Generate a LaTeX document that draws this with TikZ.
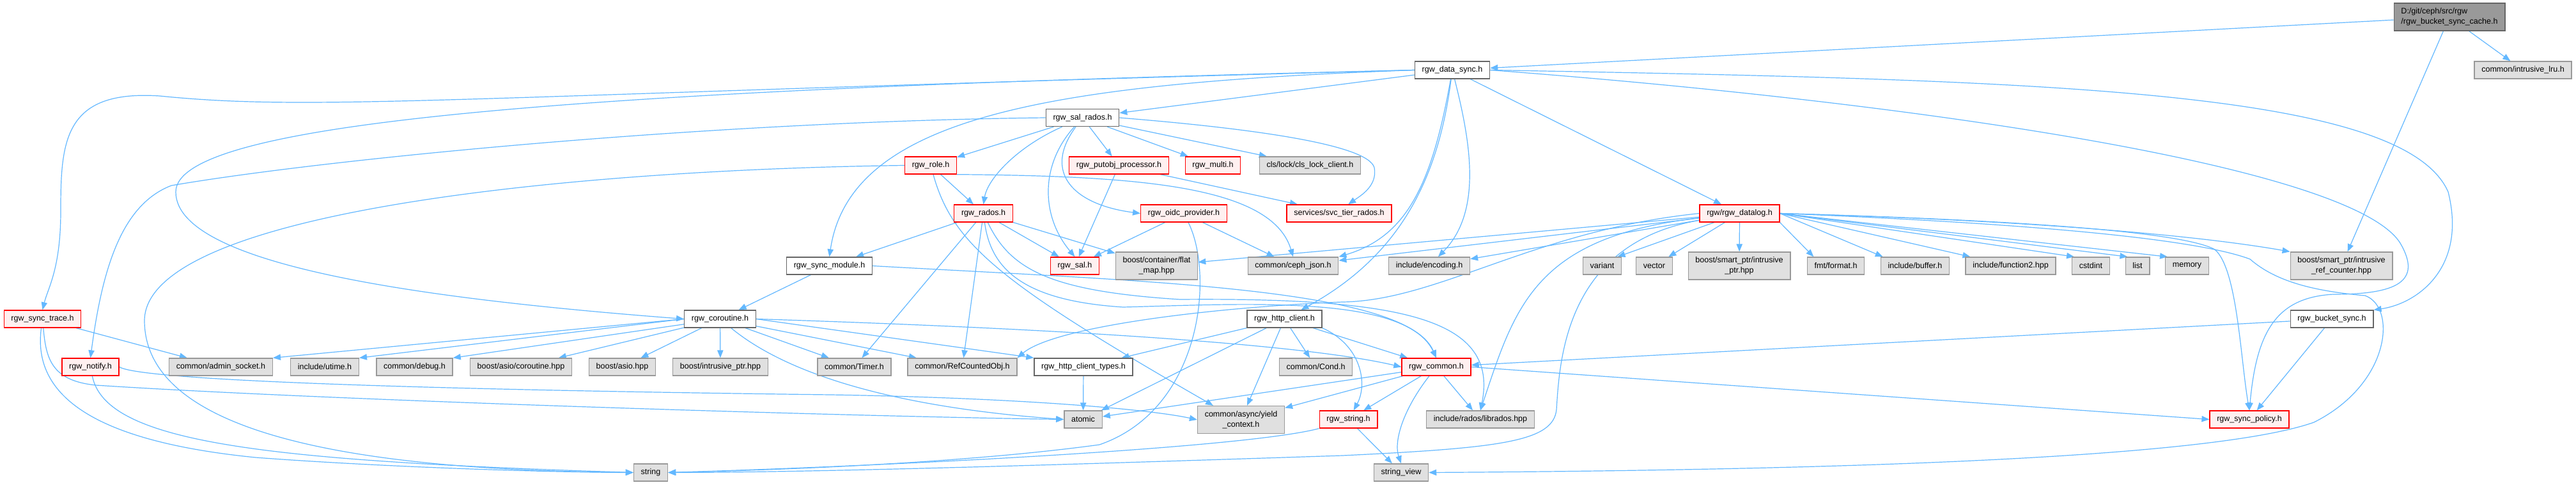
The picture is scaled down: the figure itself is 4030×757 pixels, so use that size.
\documentclass[tikz,border=0pt]{standalone}
\usepackage{fontspec}
\setmainfont{Liberation Sans}
\usetikzlibrary{arrows.meta, backgrounds}

\definecolor{edgeblue}{HTML}{63B8FF}
\definecolor{sysfill}{HTML}{E0E0E0}
\definecolor{sysline}{HTML}{999999}
\definecolor{redfill}{HTML}{FFF0F0}
\definecolor{plainline}{HTML}{666666}

\tikzset{
  filebox/.style={draw=plainline, fill=white, line width=1pt, font=\fontsize{9.4}{12}\selectfont,
    inner xsep=8.4pt, inner ysep=1pt, minimum height=20.25pt},
  sysbox/.style={filebox, draw=sysline, fill=sysfill},
  redbox/.style={filebox, draw=red, fill=redfill},
  rootbox/.style={filebox, fill=sysline, align=left, minimum height=32.25pt},
  twoline/.style={align=center, minimum height=32.25pt},
  incl/.style={draw=edgeblue, line width=0.9pt, -{Triangle[length=9pt,width=7pt]}},
}

\begin{document}
\begin{tikzpicture}[x=0.75pt, y=-0.75pt]

    \useasboundingbox (0,0) rectangle (4030,757);

    % top of the graph
    \node[rootbox] (root) at (3832,26.5) {D:/git/ceph/src/rgw\\/rgw\_bucket\_sync\_cache.h};
    \node[sysbox] (lru) at (3947,109.5) {common/intrusive\_lru.h};
    \node[filebox] (datasync) at (2272,109.5) {rgw\_data\_sync.h};
    \node[filebox] (salrados) at (1693.5,184) {rgw\_sal\_rados.h};

    % rgw_sal_rados.h includes
    \node[redbox] (role) at (1456,258.5) {rgw\_role.h};
    \node[redbox] (putobj) at (1750.5,258.5) {rgw\_putobj\_processor.h};
    \node[redbox] (multi) at (1897.5,258.5) {rgw\_multi.h};
    \node[sysbox] (clslock) at (2049.5,258.5) {cls/lock/cls\_lock\_client.h};
    \node[redbox] (rados) at (1538.5,333.5) {rgw\_rados.h};
    \node[redbox] (oidc) at (1852,333.5) {rgw\_oidc\_provider.h};
    \node[redbox] (svctier) at (2095,333.5) {services/svc\_tier\_rados.h};
    \node[redbox] (datalog) at (2721.5,333.5) {rgw/rgw\_datalog.h};

    % middle row
    \node[filebox] (syncmodule) at (1297.5,415.5) {rgw\_sync\_module.h};
    \node[redbox] (sal) at (1681.5,415.5) {rgw\_sal.h};
    \node[sysbox, twoline] (flatmap) at (1809.5,415.5) {boost/container/flat\\\_map.hpp};
    \node[sysbox] (cephjson) at (2023,415.5) {common/ceph\_json.h};
    \node[sysbox] (encoding) at (2236,415.5) {include/encoding.h};
    \node[sysbox] (variant) at (2506.5,415.5) {variant};
    \node[sysbox] (vector) at (2588,415.5) {vector};
    \node[sysbox, twoline] (smartptr) at (2721,415.5) {boost/smart\_ptr/intrusive\\\_ptr.hpp};
    \node[sysbox] (fmt) at (2872,415.5) {fmt/format.h};
    \node[sysbox] (buffer) at (2996,415.5) {include/buffer.h};
    \node[sysbox] (function2) at (3145.5,415.5) {include/function2.hpp};
    \node[sysbox] (cstdint) at (3271,415.5) {cstdint};
    \node[sysbox] (list) at (3344,415.5) {list};
    \node[sysbox] (memory) at (3421.5,415.5) {memory};
    \node[sysbox, twoline] (refcounter) at (3663,415.5) {boost/smart\_ptr/intrusive\\\_ref\_counter.hpp};

    \node[redbox] (synctrace) at (66.5,498.5) {rgw\_sync\_trace.h};
    \node[filebox] (coroutine) at (1126.5,498.5) {rgw\_coroutine.h};
    \node[filebox] (httpclient) at (2009.5,498.5) {rgw\_http\_client.h};
    \node[filebox] (bucketsync) at (3648,498.5) {rgw\_bucket\_sync.h};

    \node[redbox] (notify) at (141.5,573.5) {rgw\_notify.h};
    \node[sysbox] (adminsocket) at (345.5,573.5) {common/admin\_socket.h};
    \node[sysbox] (utime) at (508,573.5) {include/utime.h};
    \node[sysbox] (debug) at (648.5,573.5) {common/debug.h};
    \node[sysbox] (asiocoro) at (815,573.5) {boost/asio/coroutine.hpp};
    \node[sysbox] (asio) at (973.5,573.5) {boost/asio.hpp};
    \node[sysbox] (intrusiveptr) at (1127,573.5) {boost/intrusive\_ptr.hpp};
    \node[sysbox] (timer) at (1336.5,573.5) {common/Timer.h};
    \node[sysbox] (refcounted) at (1505.5,573.5) {common/RefCountedObj.h};
    \node[filebox] (httptypes) at (1695,573.5) {rgw\_http\_client\_types.h};
    \node[sysbox] (cond) at (2058.5,573.5) {common/Cond.h};
    \node[redbox] (common) at (2247,573.5) {rgw\_common.h};

    % bottom rows
    \node[sysbox] (atomic) at (1694.5,655.5) {atomic};
    \node[sysbox, twoline] (yield) at (1941.5,656) {common/async/yield\\\_context.h};
    \node[redbox] (rgwstring) at (2109.5,655.5) {rgw\_string.h};
    \node[sysbox] (librados) at (2316,655.5) {include/rados/librados.hpp};
    \node[redbox] (syncpolicy) at (3519,655.5) {rgw\_sync\_policy.h};
    \node[sysbox] (string) at (1018,738.5) {string};
    \node[sysbox] (stringview) at (2192,738.5) {string\_view};

    \begin{scope}[on background layer]
    \fill[white] (0,0) rectangle (4030,757);

    % the file itself
    \draw[incl] (root) -- (datasync);
    \draw[incl] (root) -- (lru);
    \draw[incl] (root) -- (refcounter);

    % rgw_data_sync.h
    \draw[incl] (datasync.west) .. controls (700,150) and (500,175) .. (250,150)
        .. controls (100,140) and (95,220) .. (95,330) .. controls (95,420) and (75,450) .. (synctrace.north);
    \draw[incl] (datasync.west) .. controls (900,140) and (275,190) .. (275,300)
        .. controls (275,420) and (700,470) .. (coroutine.west);
    \draw[incl] (datasync.west) .. controls (1650,130) and (1330,180) .. (syncmodule.north);
    \draw[incl] (datasync) -- (salrados);
    \draw[incl] (datasync) .. controls (2250,280) and (2190,400) .. (httpclient);
    \draw[incl] (datasync) .. controls (2240,290) and (2200,370) .. (cephjson.north east);
    \draw[incl] (datasync) .. controls (2300,220) and (2320,330) .. (encoding);
    \draw[incl] (datasync) -- (datalog);
    \draw[incl] (datasync.east) .. controls (3200,125) and (3760,140) .. (3830,300)
        .. controls (3860,420) and (3780,475) .. (bucketsync.north east);
    \draw[incl] (datasync.east) .. controls (3000,160) and (3680,260) .. (3755,380)
        .. controls (3790,440) and (3750,460) .. (3650,460) .. controls (3560,465) and (3530,520) .. (syncpolicy.north);

    % rgw/rgw_datalog.h
    \draw[incl] (datalog) -- ([xshift=-5pt]variant.north east);
    \draw[incl] (datalog) -- ([xshift=-5pt]vector.north east);
    \draw[incl] (datalog) -- (smartptr);
    \draw[incl] (datalog.south east) -- ([xshift=8pt]fmt.north west);
    \draw[incl] (datalog.east) -- ([xshift=3pt]buffer.north west);
    \draw[incl] (datalog.east) -- ([xshift=6pt]function2.north west);
    \draw[incl] (datalog.east) -- ([xshift=3pt]cstdint.north west);
    \draw[incl] (datalog.east) -- ([xshift=3pt]list.north west);
    \draw[incl] (datalog.east) -- ([xshift=3pt]memory.north west);
    \draw[incl] (datalog.east) .. controls (3200,345) and (3450,370) .. (refcounter.north west);
    \draw[incl] (datalog.east) .. controls (3200,345) and (3420,365) .. (3465,390)
        .. controls (3500,420) and (3505,560) .. (syncpolicy.north);
    \draw[incl] (datalog.east) .. controls (3200,350) and (3440,375) .. (3520,405)
        .. controls (3560,440) and (3620,455) .. (3700,462) .. controls (3750,480) and (3740,600) .. (3620,660)
        .. controls (3450,720) and (2800,735) .. (stringview.east);
    \draw[incl] (datalog) -- (flatmap);
    \draw[incl] (datalog) -- (cephjson);
    \draw[incl] (datalog) -- (encoding);
    \draw[incl] (datalog.west) .. controls (2400,360) and (2250,470) .. (2100,472)
        .. controls (1900,480) and (1650,510) .. (refcounted.north east);
    \draw[incl] (datalog) .. controls (2400,370) and (2370,480) .. (librados.north);
    \draw[incl] (datalog) .. controls (2450,380) and (2440,560) .. (2435,640)
        .. controls (2430,690) and (2350,700) .. (2100,712) .. controls (1700,725) and (1300,738) .. (string.east);

    % rgw_sal_rados.h
    \draw[incl] (salrados) -- (role);
    \draw[incl] (salrados) .. controls (1590,230) and (1545,280) .. (rados.north);
    \draw[incl] (salrados) -- (putobj);
    \draw[incl] (salrados) -- (multi);
    \draw[incl] (salrados) -- (clslock);
    \draw[incl] (salrados.east) .. controls (1950,200) and (2140,225) .. (2150,262)
        .. controls (2155,290) and (2130,305) .. (svctier.45);
    \draw[incl] (salrados) .. controls (1630,270) and (1680,320) .. (oidc.west);
    \draw[incl] (salrados) .. controls (1625,260) and (1630,340) .. (sal.north);
    \draw[incl] (salrados.west) .. controls (1100,190) and (500,250) .. (268,290)
        .. controls (190,320) and (160,420) .. (notify.north);

    % rgw_role.h, rgw_putobj_processor.h, rgw_oidc_provider.h
    \draw[incl] (role) -- (rados);
    \draw[incl] (role.west) .. controls (900,265) and (230,330) .. (226,500)
        .. controls (225,690) and (600,735) .. (string.west);
    \draw[incl] (role) .. controls (1490,380) and (1560,440) .. (yield.153);
    \draw[incl] (role.south east) .. controls (1780,275) and (1990,290) .. (cephjson.north);
    \draw[incl] (putobj) -- (sal);
    \draw[incl] (putobj) -- (svctier);
    \draw[incl] (oidc) -- (sal);
    \draw[incl] (oidc) -- (cephjson);
    \draw[incl] (oidc) .. controls (1900,430) and (1880,640) .. (1720,695)
        .. controls (1500,725) and (1200,735) .. (string.east);

    % rgw_rados.h
    \draw[incl] (rados) -- (syncmodule);
    \draw[incl] (rados) -- (timer);
    \draw[incl] (rados) -- (refcounted);
    \draw[incl] (rados) -- (sal);
    \draw[incl] (rados) -- (flatmap);
    \draw[incl] (rados) .. controls (1550,420) and (1600,470) .. (1757,480)
        .. controls (1950,475) and (2200,460) .. (common.north);
    \draw[incl] (rados) .. controls (1580,420) and (1640,455) .. (1846,468)
        .. controls (2200,465) and (2345,500) .. (librados.north);

    % rgw_sync_module.h and rgw_coroutine.h
    \draw[incl] (syncmodule) -- (coroutine);
    \draw[incl] (syncmodule.east) .. controls (1800,440) and (2200,450) .. (common.north);
    \draw[incl] (coroutine.west) -- (adminsocket.north east);
    \draw[incl] (coroutine.west) -- (utime.north east);
    \draw[incl] (coroutine) -- (debug.north east);
    \draw[incl] (coroutine) -- (asiocoro);
    \draw[incl] (coroutine) -- (asio);
    \draw[incl] (coroutine) -- (intrusiveptr);
    \draw[incl] (coroutine) -- (timer);
    \draw[incl] (coroutine) -- (refcounted);
    \draw[incl] (coroutine.east) -- (httptypes.north west);
    \draw[incl] (coroutine.east) .. controls (1700,515) and (2050,540) .. (common.west);
    \draw[incl] (coroutine) .. controls (1250,600) and (1450,640) .. (atomic.west);

    % rgw_http_client.h
    \draw[incl] (httpclient) -- (httptypes);
    \draw[incl] (httpclient) -- (atomic);
    \draw[incl] (httpclient) -- (yield);
    \draw[incl] (httpclient) -- (cond);
    \draw[incl] (httpclient) -- (common);
    \draw[incl] (httpclient.south east) .. controls (2130,540) and (2140,600) .. (rgwstring.60);
    \draw[incl] (httptypes) -- (atomic);

    % rgw_common.h and rgw_string.h
    \draw[incl] (common) -- (atomic);
    \draw[incl] (common) -- (yield);
    \draw[incl] (common) -- (rgwstring);
    \draw[incl] (common) -- (librados);
    \draw[incl] (common) .. controls (2195,640) and (2180,690) .. (stringview.north);
    \draw[incl] (common.east) -- (syncpolicy.west);
    \draw[incl] (rgwstring) -- (stringview);
    \draw[incl] (rgwstring.south west) .. controls (1950,700) and (1400,728) .. (string.east);

    % rgw_sync_trace.h and rgw_notify.h
    \draw[incl] (synctrace) -- (adminsocket);
    \draw[incl] (synctrace) .. controls (72,560) and (80,595) .. (150,602)
        .. controls (500,625) and (1300,650) .. (atomic.west);
    \draw[incl] (synctrace) .. controls (50,620) and (150,690) .. (400,715)
        .. controls (600,730) and (850,738) .. (string.west);
    \draw[incl] (notify.east) .. controls (230,600) and (900,612) .. (1300,617)
        .. controls (1600,622) and (1800,640) .. (yield.west);
    \draw[incl] (notify) .. controls (165,690) and (400,720) .. (string.west);

    % rgw_bucket_sync.h
    \draw[incl] (bucketsync) -- (common);
    \draw[incl] (bucketsync) -- (syncpolicy);
    \end{scope}

\end{tikzpicture}
\end{document}
